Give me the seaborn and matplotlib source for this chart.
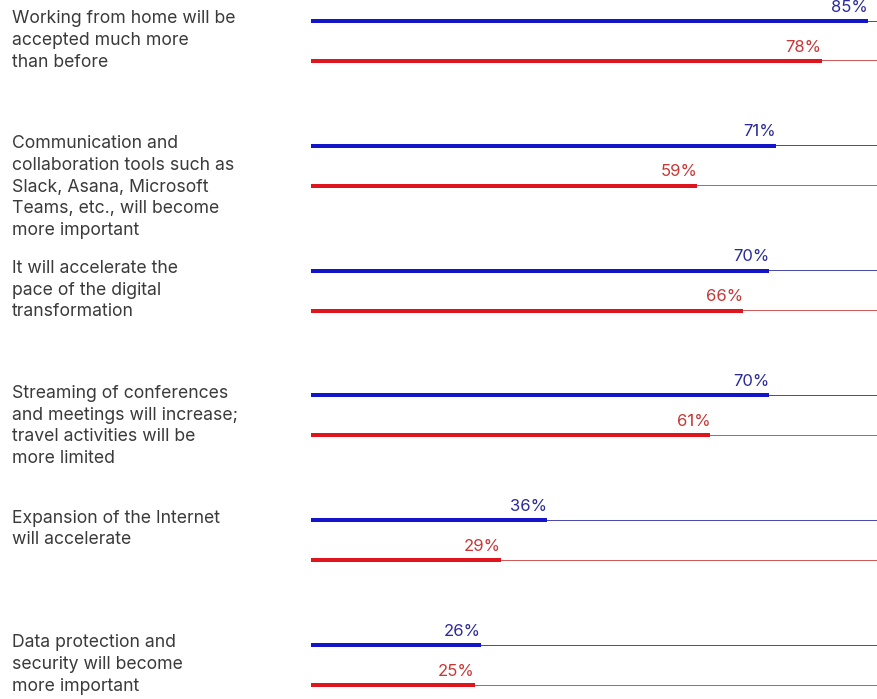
import matplotlib
matplotlib.use('Agg')
import matplotlib.pyplot as plt
import matplotlib.transforms as mtransforms
import pandas as pd
import seaborn as sns

questions = [
    'Working from home will be\naccepted much more\nthan before',
    'Communication and\ncollaboration tools such as\nSlack, Asana, Microsoft\nTeams, etc., will become\nmore important',
    'It will accelerate the\npace of the digital\ntransformation',
    'Streaming of conferences\nand meetings will increase;\ntravel activities will be\nmore limited',
    'Expansion of the Internet\nwill accelerate',
    'Data protection and\nsecurity will become\nmore important',
]
series = ['Blue', 'Red']
blue_values = [85, 71, 70, 70, 36, 26]
red_values = [78, 59, 66, 61, 29, 25]
full_scale = 100

BAR_COLORS = {'Blue': '#1414c8', 'Red': '#e0141c'}
TRACK_COLORS = {'Blue': '#4a4ab4', 'Red': '#d05a5a'}
LABEL_COLORS = {'Blue': '#2a2a9c', 'Red': '#c83636'}
TEXT_COLOR = '#3a3a3a'

sns.set_theme(style='white')
plt.rcParams['font.family'] = ['Inter', 'DejaVu Sans']

df = pd.DataFrame({
    'question': questions * 2,
    'series': ['Blue'] * len(questions) + ['Red'] * len(questions),
    'value': blue_values + red_values,
})
df['track'] = full_scale

fig = plt.figure(figsize=(8.78, 6.99), dpi=100)
ax = fig.add_axes([311 / 878, 0, 1 - 311 / 878, 1])

# thin full-width tracks
sns.barplot(data=df, y='question', x='track', hue='series', order=questions,
            hue_order=series, palette=TRACK_COLORS, orient='h', width=0.64,
            gap=0.975, dodge=True, legend=False, ax=ax, errorbar=None,
            saturation=1)
n_track = len(ax.patches)

# thick value bars
sns.barplot(data=df, y='question', x='value', hue='series', order=questions,
            hue_order=series, palette=BAR_COLORS, orient='h', width=0.64,
            gap=0.9, dodge=True, legend=False, ax=ax, errorbar=None,
            saturation=1)

for p in ax.patches:
    p.set_linewidth(0)

for i, p in enumerate(ax.patches[n_track:]):
    key = series[i // len(questions)]
    ax.text(p.get_width(), p.get_y() - 0.035, f'{p.get_width():.0f}%',
            ha='right', va='bottom', fontsize=12, color=LABEL_COLORS[key])

ax.set_xlim(0, 86.6)
ax.set_ylim(5.272, -0.3285)
ax.set_xlabel('')
ax.set_ylabel('')
ax.set_xticks([])
ax.set_yticks([])
sns.despine(ax=ax, left=True, bottom=True)

trans = mtransforms.blended_transform_factory(fig.transFigure, ax.transData)
for i, q in enumerate(questions):
    ax.text(12 / 878, i - 0.245, q, transform=trans, ha='left', va='top',
            fontsize=12.7, color=TEXT_COLOR, linespacing=1.36, clip_on=False)

fig.savefig('out.png', dpi=100)
plt.close(fig)
